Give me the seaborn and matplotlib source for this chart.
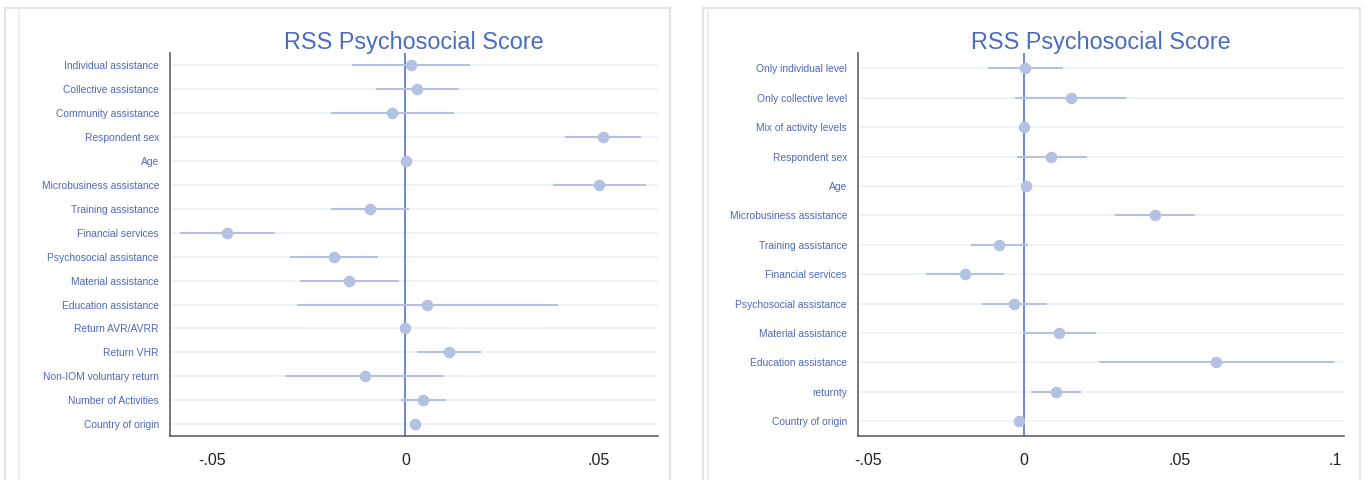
import matplotlib
matplotlib.use("Agg")
import matplotlib.pyplot as plt
import matplotlib.patches as mpatches
import seaborn as sns
import pandas as pd

# Model 1: individual assistance types
labels_a = ["Individual assistance", "Collective assistance", "Community assistance",
            "Respondent sex", "Age", "Microbusiness assistance", "Training assistance",
            "Financial services", "Psychosocial assistance", "Material assistance",
            "Education assistance", "Return AVR/AVRR", "Return VHR",
            "Non-IOM voluntary return", "Number of Activities", "Country of origin"]
coef_a = [0.0015, 0.0030, -0.0034, 0.0512, 0.0003, 0.0503, -0.0092, -0.0461,
          -0.0184, -0.0145, 0.0057, 0.0000, 0.0114, -0.0105, 0.0047, 0.0025]
lo_a = [-0.0138, -0.0076, -0.0192, 0.0413, 0.0003, 0.0382, -0.0192, -0.0583,
        -0.0299, -0.0274, -0.0281, 0.0000, 0.0031, -0.0312, -0.0011, 0.0025]
hi_a = [0.0168, 0.0138, 0.0126, 0.0612, 0.0003, 0.0625, 0.0009, -0.0339,
        -0.0071, -0.0017, 0.0395, 0.0000, 0.0195, 0.0101, 0.0105, 0.0025]
ticks_a = [-0.05, 0, 0.05]
ticklabels_a = ["-.05", "0", ".05"]

# Model 2: activity levels
labels_b = ["Only individual level", "Only collective level", "Mix of activity levels",
            "Respondent sex", "Age", "Microbusiness assistance", "Training assistance",
            "Financial services", "Psychosocial assistance", "Material assistance",
            "Education assistance", "returnty", "Country of origin"]
coef_b = [0.0004, 0.0151, 0.0001, 0.0089, 0.0006, 0.0422, -0.0078, -0.0189,
          -0.0031, 0.0113, 0.0619, 0.0103, -0.0015]
lo_b = [-0.0116, -0.0027, 0.0001, -0.0021, 0.0006, 0.0295, -0.0170, -0.0313,
        -0.0134, -0.0003, 0.0243, 0.0024, -0.0015]
hi_b = [0.0127, 0.0328, 0.0001, 0.0203, 0.0006, 0.0552, 0.0015, -0.0064,
        0.0074, 0.0232, 0.0996, 0.0183, -0.0015]
ticks_b = [-0.05, 0, 0.05, 0.1]
ticklabels_b = ["-.05", "0", ".05", ".1"]

title = "RSS Psychosocial Score"

sns.set_theme(style="white")
plt.rcParams["font.family"] = ["Liberation Sans", "DejaVu Sans"]

TITLE_C = "#4a6cc0"
LABEL_C = "#5068c0"
MARK_C = "#b3c2e3"
ZERO_C = "#4668c0"
GRID_C = "#eef3f5"
SPINE_C = "#555555"

fig = plt.figure(figsize=(13.7, 4.8), dpi=100)

# panel frames
for x0, x1, xin in [(5, 670, 19), (703, 1360, 708)]:
    fig.add_artist(mpatches.Rectangle((x0 / 1370, -0.1), (x1 - x0) / 1370, 1.1 - 8 / 480,
                                      transform=fig.transFigure, fill=False,
                                      edgecolor="#e4e4e4", lw=1.6))
    fig.add_artist(plt.Line2D([xin / 1370, xin / 1370], [0, 1 - 8 / 480],
                              transform=fig.transFigure, color="#e6eef0", lw=1.2))


def coef_panel(rect, labels, coef, lo, hi, xlim, ticks, ticklabels):
    ax = fig.add_axes(rect)
    df = pd.DataFrame({"term": labels, "coef": coef, "lo": lo, "hi": hi})
    n = len(labels)
    for i in range(n):
        ax.axhline(i, color=GRID_C, lw=1.4, zorder=0)
    ax.axvline(0, color=ZERO_C, lw=1.1, zorder=1)
    ax.hlines(y=range(n), xmin=df["lo"], xmax=df["hi"], color=MARK_C, lw=1.5, zorder=2)
    sns.pointplot(data=df, x="coef", y="term", order=labels, orient="h",
                  linestyle="none", markers="o", color=MARK_C, markersize=6.3,
                  errorbar=None, ax=ax, zorder=3)
    ax.set_xlim(*xlim)
    ax.set_ylim(n - 0.5, -0.52)
    ax.set_xticks(ticks)
    ax.set_xticklabels(ticklabels, fontsize=11.5, color="#222222")
    ax.tick_params(axis="x", direction="out", length=6, width=1, color=SPINE_C, pad=6)
    ax.tick_params(axis="y", length=0, pad=8)
    for t in ax.get_yticklabels():
        t.set_fontsize(7.4)
        t.set_color(LABEL_C)
    ax.set_xlabel("")
    ax.set_ylabel("")
    for s in ["top", "right"]:
        ax.spines[s].set_visible(False)
    for s in ["left", "bottom"]:
        ax.spines[s].set_color(SPINE_C)
        ax.spines[s].set_linewidth(1.1)
    ax.set_facecolor("white")
    ax.set_title(title, fontsize=16.8, color=TITLE_C, pad=3)
    return ax


coef_panel([170 / 1370, 44 / 480, 488 / 1370, 383 / 480], labels_a, coef_a, lo_a, hi_a,
           (-0.061, 0.0655), ticks_a, ticklabels_a)
coef_panel([858 / 1370, 44 / 480, 486 / 1370, 383 / 480], labels_b, coef_b, lo_b, hi_b,
           (-0.0532, 0.1029), ticks_b, ticklabels_b)

fig.savefig("out.png", dpi=100)
